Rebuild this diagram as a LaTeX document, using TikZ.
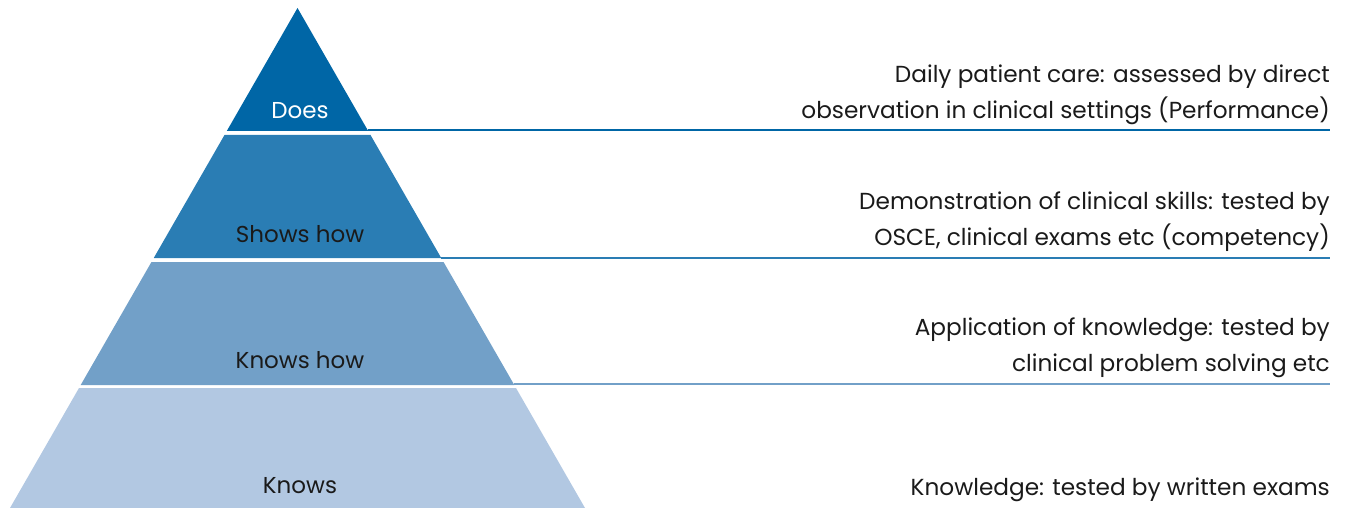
\documentclass[tikz,border=0pt]{standalone}
\usepackage{fontspec}
\setmainfont{Poppins}
\definecolor{bandA}{HTML}{0066A6}
\definecolor{bandB}{HTML}{2A7DB4}
\definecolor{bandC}{HTML}{72A0C8}
\definecolor{bandD}{HTML}{B2C8E2}
\definecolor{txt}{HTML}{1A1A1A}
\begin{document}
\begin{tikzpicture}[x=1pt,y=-1pt,
  band/.style={fill=#1,draw=none},
  lead/.style={draw=#1,line width=2pt},
  lvl/.style={font=\fontsize{23}{27}\selectfont,anchor=base,inner sep=0pt,text=txt},
  desc/.style={font=\fontsize{23.2}{36}\selectfont,anchor=base east,inner sep=0pt,text=txt,align=right}]
\useasboundingbox (0,0) rectangle (1345,508);
% bands
\path[band=bandA] (297.5,8) -- (368.2,131) -- (226.8,131) -- cycle;
\path[band=bandB] (224.5,135) -- (370.5,135) -- (441.25,258) -- (153.75,258) -- cycle;
\path[band=bandC] (151.45,262) -- (443.55,262) -- (514.3,385) -- (80.7,385) -- cycle;
\path[band=bandD] (79,388) -- (516,388) -- (585,508) -- (10,508) -- cycle;
% corners
\coordinate (c1) at (367.6,130.5);
\coordinate (c2) at (440.7,257.5);
\coordinate (c3) at (513.8,384.3);
\coordinate (e1) at (1330,130.5);
\coordinate (e2) at (1330,257.5);
\coordinate (e3) at (1330,384.3);
\draw[lead=bandA] (c1) -- (e1);
\draw[lead=bandB] (c2) -- (e2);
\draw[lead=bandC] (c3) -- (e3);
% level labels
\node[lvl,text=white] (does) at (300,119) {Does};
\node[lvl] (shows) at (300,243) {Shows how};
\node[lvl] (knowshow) at (300,368) {Knows how};
\node[lvl] (knows) at (300,493) {Knows};
% descriptions
\node[desc] (d1a) at (1330,83) {Daily patient care: assessed by direct};
\node[desc] (d1b) at (1330,119) {observation in clinical settings (Performance)};
\node[desc] (d2a) at (1330,209) {Demonstration of clinical skills: tested by};
\node[desc] (d2b) at (1330,245) {OSCE, clinical exams etc (competency)};
\node[desc] (d3a) at (1330,335) {Application of knowledge: tested by};
\node[desc] (d3b) at (1330,371) {clinical problem solving etc};
\node[desc] (d4) at (1330,495) {Knowledge: tested by written exams};
\end{tikzpicture}
\end{document}
